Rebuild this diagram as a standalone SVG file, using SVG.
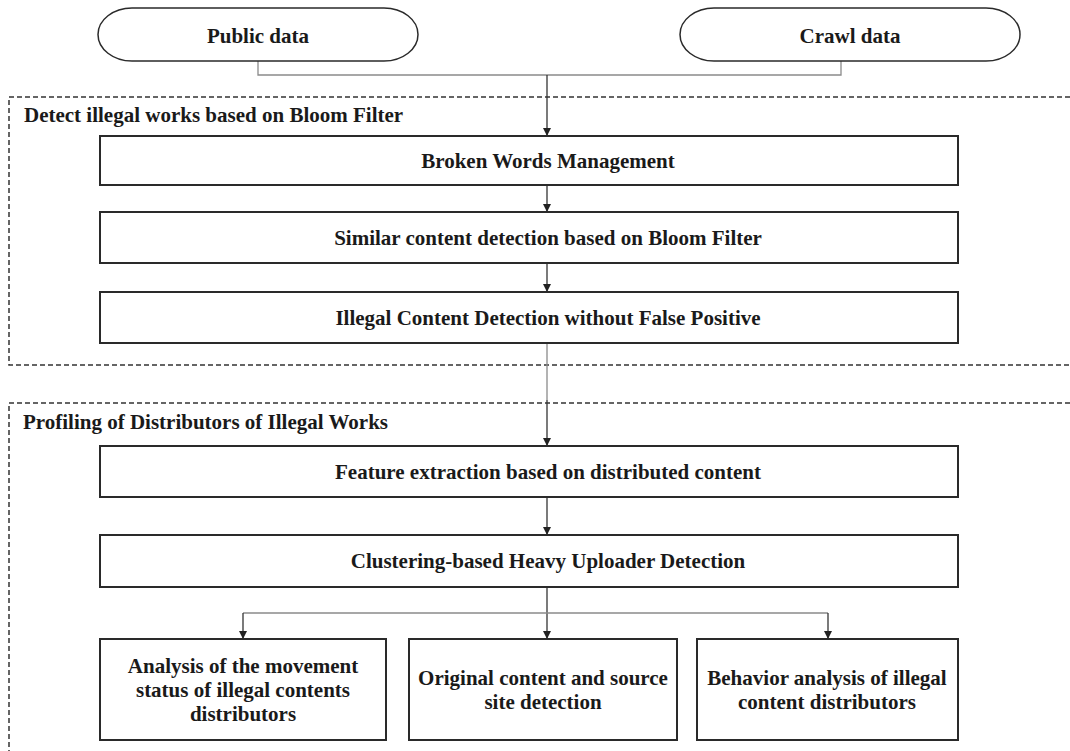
<svg xmlns="http://www.w3.org/2000/svg" width="1070" height="751" viewBox="0 0 1070 751">
  <style>
    .box { fill: #ffffff; stroke: #2a2a2a; stroke-width: 2; }
    .pill { fill: #ffffff; stroke: #2a2a2a; stroke-width: 1.5; }
    .lbl { font-family: "Liberation Serif", "Times New Roman", serif; font-weight: bold; font-size: 21px; fill: #1a1a1a; text-anchor: middle; }
    .title { font-family: "Liberation Serif", "Times New Roman", serif; font-weight: bold; font-size: 21px; fill: #1a1a1a; }
    .group { fill: none; stroke: #333333; stroke-width: 1.5; stroke-dasharray: 5 3; }
    .arrow { fill: none; stroke: #333333; stroke-width: 1.3; marker-end: url(#head); }
    .link { fill: none; stroke: #8a8a8a; stroke-width: 1.3; }
  </style>
  <defs>
    <marker id="head" viewBox="0 0 10 10" refX="10" refY="5" markerWidth="8" markerHeight="8" markerUnits="userSpaceOnUse" orient="auto">
      <path d="M0,0 L10,5 L0,10 Z" fill="#222222"/>
    </marker>
  </defs>

  <rect width="1070" height="751" fill="#ffffff"/>

  <!-- group frames -->
  <g id="group-detect">
    <path class="group" d="M1070,97 H9 V365 H1070"/>
    <text class="title" x="24" y="122">Detect illegal works based on Bloom Filter</text>
  </g>
  <g id="group-profiling">
    <path class="group" d="M1070,403 H9 V751"/>
    <text class="title" x="23" y="429">Profiling of Distributors of Illegal Works</text>
  </g>

  <!-- connectors -->
  <g id="connectors">
    <path class="link" d="M258,61 V75 H841 V61"/>
    <path class="arrow" d="M547,75 V136"/>
    <path class="arrow" d="M547,185 V212"/>
    <path class="arrow" d="M547,263 V292"/>
    <path class="link" d="M547,343 V400"/>
    <path class="arrow" d="M547,400 V446"/>
    <path class="arrow" d="M547,497 V535"/>
    <path class="arrow" d="M547,587 V639"/>
    <path class="link" d="M243,613 H828"/>
    <path class="arrow" d="M243,613 V639"/>
    <path class="arrow" d="M828,613 V639"/>
  </g>

  <!-- sources -->
  <g id="public-data">
    <rect class="pill" x="98" y="8" width="320" height="53" rx="34" ry="26.5"/>
    <text class="lbl" x="258" y="43">Public data</text>
  </g>
  <g id="crawl-data">
    <rect class="pill" x="680" y="8" width="340" height="53" rx="34" ry="26.5"/>
    <text class="lbl" x="850" y="43">Crawl data</text>
  </g>

  <!-- detection stage -->
  <g id="broken-words">
    <rect class="box" x="100" y="136" width="858" height="49"/>
    <text class="lbl" x="548" y="168">Broken Words Management</text>
  </g>
  <g id="similar-content">
    <rect class="box" x="100" y="212" width="858" height="51"/>
    <text class="lbl" x="548" y="245">Similar content detection based on Bloom Filter</text>
  </g>
  <g id="illegal-content">
    <rect class="box" x="100" y="292" width="858" height="51"/>
    <text class="lbl" x="548" y="325">Illegal Content Detection without False Positive</text>
  </g>

  <!-- profiling stage -->
  <g id="feature-extraction">
    <rect class="box" x="100" y="446" width="858" height="51"/>
    <text class="lbl" x="548" y="479">Feature extraction based on distributed content</text>
  </g>
  <g id="heavy-uploader">
    <rect class="box" x="100" y="535" width="858" height="52"/>
    <text class="lbl" x="548" y="568">Clustering-based Heavy Uploader Detection</text>
  </g>
  <g id="movement-status">
    <rect class="box" x="100" y="639" width="286" height="101"/>
    <text class="lbl" x="243" y="673">Analysis of the movement</text>
    <text class="lbl" x="243" y="697">status of illegal contents</text>
    <text class="lbl" x="243" y="721">distributors</text>
  </g>
  <g id="source-site">
    <rect class="box" x="409" y="639" width="268" height="101"/>
    <text class="lbl" x="543" y="685">Original content and source</text>
    <text class="lbl" x="543" y="709">site detection</text>
  </g>
  <g id="behavior-analysis">
    <rect class="box" x="697" y="639" width="261" height="101"/>
    <text class="lbl" x="827" y="685">Behavior analysis of illegal</text>
    <text class="lbl" x="827" y="709">content distributors</text>
  </g>
</svg>
